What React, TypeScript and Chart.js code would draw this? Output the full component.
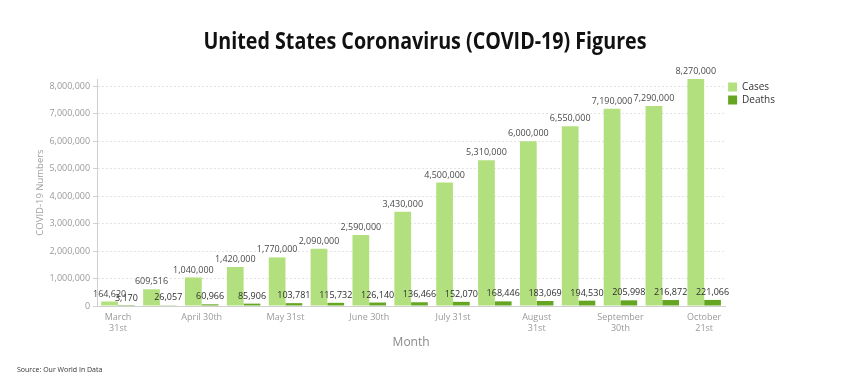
import React, { useEffect, useRef } from "react";
import { Chart, registerables } from "chart.js";

Chart.register(...registerables);

const categories: (string | string[])[] = [
  ["March", "31st"],
  "April 15th",
  "April 30th",
  "May 15th",
  "May 31st",
  "June 15th",
  "June 30th",
  "July 15th",
  "July 31st",
  "August 15th",
  ["August", "31st"],
  "September 15th",
  ["September", "30th"],
  "October 10th",
  ["October", "21st"],
];

const cases = [
  164620, 609516, 1040000, 1420000, 1770000, 2090000, 2590000, 3430000,
  4500000, 5310000, 6000000, 6550000, 7190000, 7290000, 8270000,
];

const deaths = [
  3170, 26057, 60966, 85906, 103781, 115732, 126140, 136466, 152070, 168446,
  183069, 194530, 205998, 216872, 221066,
];

const yTickValues = [0, 1000000, 2000000, 3000000, 4000000, 5000000, 6000000, 7000000, 8000000];
const yMax = 8270000;

const shownTickIndices = [0, 2, 4, 6, 8, 10, 12, 14];

const titleText = "United States Coronavirus (COVID-19) Figures";
const sourceText = "Source: Our World In Data";

const FONT = "'Open Sans', 'Noto Sans', sans-serif";

const fmt = (v: number) => v.toLocaleString("en-US");

const extrasPlugin = {
  id: "extras",
  afterDatasetsDraw(chart: any) {
    const ctx = chart.ctx;
    ctx.save();
    chart.data.datasets.forEach((ds: any, di: number) => {
      const meta = chart.getDatasetMeta(di);
      ctx.font = `9px ${FONT}`;
      ctx.fillStyle = di === 0 ? "#4a4a4a" : "#2e2e2e";
      ctx.textAlign = "center";
      ctx.textBaseline = "bottom";
      meta.data.forEach((bar: any, i: number) => {
        ctx.fillText(fmt(ds.data[i]), bar.x, bar.y - 3);
      });
    });
    ctx.restore();
  },
  afterDraw(chart: any) {
    const ctx = chart.ctx;
    ctx.save();
    ctx.font = `bold 24px ${FONT}`;
    ctx.fillStyle = "#111";
    ctx.textAlign = "left";
    ctx.textBaseline = "middle";
    const w = ctx.measureText(titleText).width;
    const target = 443;
    const sx = target / w;
    ctx.translate(425 - target / 2, 42);
    ctx.scale(sx, 1);
    ctx.fillText(titleText, 0, 0);
    ctx.restore();
    ctx.save();
    ctx.font = `7px ${FONT}`;
    ctx.fillStyle = "#333";
    ctx.textAlign = "left";
    ctx.textBaseline = "middle";
    ctx.fillText(sourceText, 17, 370);
    ctx.restore();
  },
};

export default function App() {
  const ref = useRef<HTMLCanvasElement | null>(null);

  useEffect(() => {
    document.body.style.margin = "0";
    const canvas = ref.current;
    if (!canvas) return;
    const chart = new Chart(canvas, {
      type: "bar",
      data: {
        labels: categories,
        datasets: [
          {
            label: "Cases",
            data: cases,
            backgroundColor: "#b3e07e",
            categoryPercentage: 0.8,
            barPercentage: 1.0,
          },
          {
            label: "Deaths",
            data: deaths,
            backgroundColor: "#64a622",
            categoryPercentage: 0.8,
            barPercentage: 1.0,
          },
        ],
      },
      options: {
        animation: false,
        responsive: true,
        maintainAspectRatio: false,
        layout: { padding: { top: 79, left: 35, right: 65, bottom: 34 } },
        plugins: {
          title: { display: false },
          tooltip: { enabled: false },
          legend: {
            position: "right",
            align: "start",
            labels: {
              boxWidth: 9,
              boxHeight: 9,
              padding: 3,
              color: "#333",
              font: { size: 10, family: FONT },
            },
          },
        },
        scales: {
          x: {
            grid: { display: false },
            border: { display: true, color: "#cfcfcf" },
            ticks: {
              autoSkip: false,
              maxRotation: 0,
              color: "#9a9a9a",
              font: { size: 9, family: FONT },
              padding: -2,
              callback: function (this: any, _v: any, i: number) {
                return shownTickIndices.includes(i) ? categories[i] : "";
              },
            },
            title: {
              display: true,
              text: "Month",
              color: "#8a8a8a",
              font: { size: 12, family: FONT },
              padding: { top: 4, bottom: 0 },
            },
          },
          y: {
            min: 0,
            max: yMax,
            afterBuildTicks: (scale: any) => {
              scale.ticks = yTickValues.map((v) => ({ value: v }));
            },
            grid: {
              color: "#e4e4e4",
              tickLength: 4,
              tickColor: "#d0d0d0",
            },
            border: { display: true, color: "#cfcfcf", dash: [2, 2] },
            ticks: {
              color: "#9a9a9a",
              font: { size: 9, family: FONT },
              padding: 3,
              callback: (v: any) => fmt(Number(v)),
            },
            title: {
              display: true,
              text: "COVID-19 Numbers",
              color: "#a0a0a0",
              font: { size: 9.5, family: FONT },
              padding: { top: 0, bottom: 0 },
            },
          },
        },
      },
      plugins: [extrasPlugin],
    });
    return () => chart.destroy();
  }, []);

  return (
    <div style={{ width: 850, height: 384, position: "relative", background: "#fff" }}>
      <canvas ref={ref} />
    </div>
  );
}
